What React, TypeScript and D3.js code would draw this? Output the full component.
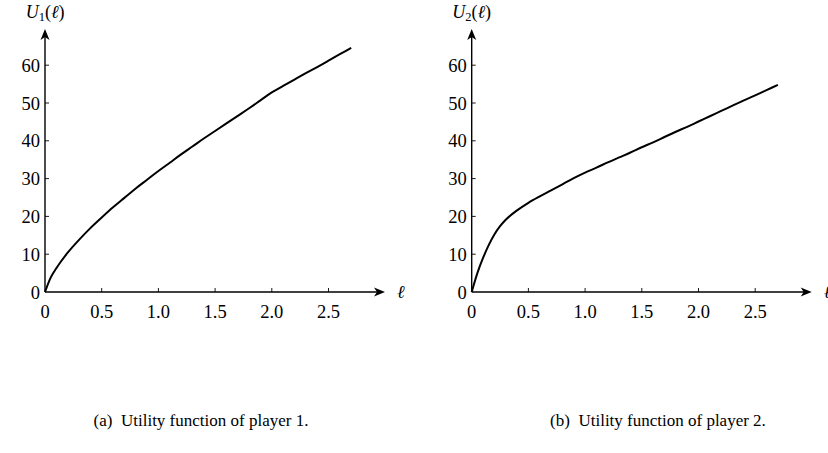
import React from "react";
import * as d3 from "d3";

const lValues1 = [0, 0.05, 0.1, 0.2, 0.3, 0.4, 0.5, 0.6, 0.7, 0.8, 0.9, 1.0, 1.1, 1.2, 1.3, 1.4, 1.5, 1.6, 1.7, 1.8, 1.9, 2.0, 2.1, 2.2, 2.3, 2.4, 2.5, 2.6, 2.7];
const u1Values = [0, 3.8, 6.3, 10.4, 13.8, 16.9, 19.7, 22.4, 24.9, 27.4, 29.7, 32.0, 34.2, 36.4, 38.5, 40.6, 42.6, 44.6, 46.6, 48.6, 50.7, 52.8, 54.5, 56.2, 57.9, 59.5, 61.2, 62.9, 64.6];

const lValues2 = [0, 0.05, 0.1, 0.15, 0.2, 0.25, 0.3, 0.4, 0.5, 0.6, 0.7, 0.8, 0.9, 1.0, 1.1, 1.2, 1.3, 1.4, 1.5, 1.6, 1.7, 1.8, 1.9, 2.0, 2.1, 2.2, 2.3, 2.4, 2.5, 2.6, 2.7];
const u2Values = [0, 5.0, 9.0, 12.4, 15.2, 17.4, 19.1, 21.6, 23.6, 25.3, 26.9, 28.5, 30.1, 31.6, 32.9, 34.3, 35.6, 36.9, 38.3, 39.6, 41.0, 42.4, 43.7, 45.1, 46.5, 47.9, 49.3, 50.7, 52.0, 53.4, 54.8];

const xTicks = [0.5, 1.0, 1.5, 2.0, 2.5];
const xTickLabels = ["0", "0.5", "1.0", "1.5", "2.0", "2.5"];
const yTicks = [10, 20, 30, 40, 50, 60];
const yTickLabels = ["0", "10", "20", "30", "40", "50", "60"];

const captions = ["(a)\u00a0\u00a0Utility function of player 1.", "(b)\u00a0\u00a0Utility function of player 2."];

const FONT = "Liberation Serif, DejaVu Serif, serif";

function Panel({ ox, ls, us, sub, caption, capX }: { ox: number; ls: number[]; us: number[]; sub: string; caption: string; capX: number }) {
  const oy = 292;
  const x = d3.scaleLinear().domain([0, 2.5]).range([ox, ox + 283.5]);
  const y = d3.scaleLinear().domain([0, 60]).range([oy, oy - 226.8]);
  const line = d3
    .line<number>()
    .x((_, i) => x(ls[i]))
    .y((d) => y(d))
    .curve(d3.curveMonotoneX);
  const xEnd = ox + 340;
  const yTop = 29;
  const allX = [0, ...xTicks];
  const allY = [0, ...yTicks];
  const ts = { fontFamily: FONT };
  return (
    <g fill="#000">
      <line x1={ox} y1={oy} x2={xEnd - 6} y2={oy} stroke="#000" strokeWidth={1.4} />
      <path d={`M${xEnd},${oy} L${xEnd - 11},${oy - 4.5} L${xEnd - 8},${oy} L${xEnd - 11},${oy + 4.5} Z`} fill="#000" />
      <line x1={ox} y1={oy} x2={ox} y2={yTop + 6} stroke="#000" strokeWidth={1.4} />
      <path d={`M${ox},${yTop} L${ox - 4.5},${yTop + 11} L${ox},${yTop + 8} L${ox + 4.5},${yTop + 11} Z`} fill="#000" />
      {xTicks.map((t) => (
        <line key={"xt" + t} x1={x(t)} x2={x(t)} y1={oy} y2={oy - 4} stroke="#000" strokeWidth={0.9} />
      ))}
      {yTicks.map((t) => (
        <line key={"yt" + t} x1={ox} x2={ox + 4} y1={y(t)} y2={y(t)} stroke="#000" strokeWidth={0.9} />
      ))}
      {allX.map((t, i) => (
        <text key={"xl" + t} style={ts} x={x(t)} y={oy + 26} fontSize={18.5} textAnchor="middle">
          {xTickLabels[i]}
        </text>
      ))}
      {allY.map((t, i) => (
        <text key={"yl" + t} style={ts} x={ox - 5} y={y(t) + 6.5} fontSize={18.5} textAnchor="end">
          {yTickLabels[i]}
        </text>
      ))}
      <text style={ts} x={ox} y={18} fontSize={18} textAnchor="middle">
        <tspan fontStyle="italic">U</tspan>
        <tspan fontSize={12.5} dy={3}>{sub}</tspan>
        <tspan dy={-3}>(</tspan>
        <tspan fontStyle="italic">ℓ</tspan>
        <tspan>)</tspan>
      </text>
      <text style={ts} x={xEnd + 12} y={298} fontSize={18} fontStyle="italic">
        ℓ
      </text>
      <path d={line(us) || ""} fill="none" stroke="#000" strokeWidth={2} strokeLinejoin="round" />
      <text style={ts} x={capX} y={426} fontSize={17} textAnchor="middle">
        {caption}
      </text>
    </g>
  );
}

export default function App() {
  return (
    <svg width={828} height={453} style={{ position: "absolute", left: 0, top: 0, background: "#fff" }}>
      <rect width={828} height={453} fill="#fff" />
      <Panel ox={45} ls={lValues1} us={u1Values} sub="1" caption={captions[0]} capX={201} />
      <Panel ox={471.7} ls={lValues2} us={u2Values} sub="2" caption={captions[1]} capX={658} />
    </svg>
  );
}
